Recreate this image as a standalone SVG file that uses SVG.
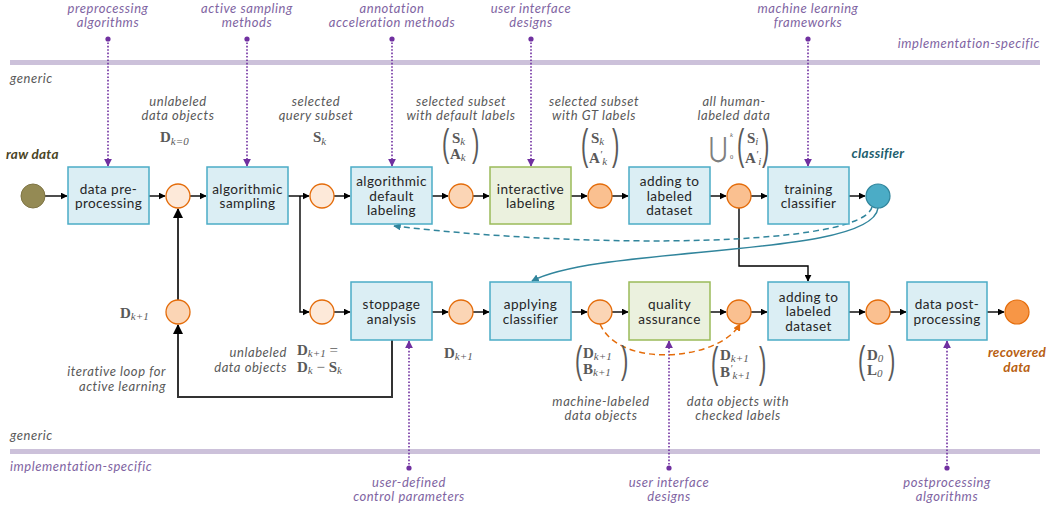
<svg xmlns="http://www.w3.org/2000/svg" width="1060" height="512" viewBox="0 0 1060 512">
<style>
.band{fill:#ccc1da}
.box{fill:#dbeef4;stroke:#4bacc6;stroke-width:1.5}
.gbox{fill:#ebf1de;stroke:#9bbb59;stroke-width:1.5}
.bt{font-family:Lato,"Liberation Sans",sans-serif;font-size:13.6px;letter-spacing:0.4px;fill:#262626;text-anchor:middle}
.pl{font-family:Lato,"Liberation Sans",sans-serif;font-size:13px;letter-spacing:0.55px;font-style:italic;fill:#8064a2;text-anchor:middle}
.gl{font-family:Lato,"Liberation Sans",sans-serif;font-size:13px;letter-spacing:0.55px;font-style:italic;fill:#595959}
.c{text-anchor:middle}
.r{text-anchor:end}
.m{font-family:"Liberation Serif","DejaVu Serif",serif;font-size:15px;fill:#595959}
.mb{font-weight:bold}
.mi{font-style:italic;font-size:11px}
.par{font-family:"Liberation Sans",sans-serif;font-size:22px;fill:#595959}
.conn{stroke:#000;stroke-width:1.4;fill:none}
.loop{stroke:#333;stroke-width:2;fill:none}
.dot{stroke:#7030a0;stroke-width:1.6;stroke-dasharray:1.6 1.8;fill:none}
.pd{fill:#7030a0}
.c1{fill:#fde9d9;stroke:#e46c0a;stroke-width:1.3}
.c2{fill:#fbd5b5;stroke:#e46c0a;stroke-width:1.3}
.c3{fill:#fac090;stroke:#e46c0a;stroke-width:1.3}
.bi{font-family:Lato,"Liberation Sans",sans-serif;font-size:13.5px;letter-spacing:0.3px;font-weight:bold;font-style:italic}
</style>
<defs>
<marker id="ab" viewBox="0 0 10 10" refX="9" refY="5" markerWidth="5" markerHeight="5" orient="auto"><path d="M0,0L10,5L0,10z" fill="#000"/></marker>
<marker id="ap" viewBox="0 0 10 10" refX="9" refY="5" markerWidth="5" markerHeight="5" orient="auto"><path d="M0,0L10,5L0,10z" fill="#7030a0"/></marker>
<marker id="at" viewBox="0 0 10 10" refX="9" refY="5" markerWidth="5" markerHeight="5" orient="auto"><path d="M0,0L10,5L0,10z" fill="#31859c"/></marker>
<marker id="ao" viewBox="0 0 10 10" refX="9" refY="5" markerWidth="5" markerHeight="5" orient="auto"><path d="M0,0L10,5L0,10z" fill="#e46c0a"/></marker>
</defs>

<g id="bands">
<rect class="band" x="10" y="60" width="1030" height="5"/>
<rect class="band" x="10" y="449" width="1030" height="5"/>
<text class="gl" x="10" y="83">generic</text>
<text class="pl" x="1040" y="48" style="text-anchor:end">implementation-specific</text>
<text class="gl" x="10" y="440">generic</text>
<text class="pl" x="10" y="471" style="text-anchor:start">implementation-specific</text>
</g>

<g id="impl-labels">
<text class="pl" x="108" y="13">preprocessing</text><text class="pl" x="108" y="27">algorithms</text>
<text class="pl" x="247" y="13">active sampling</text><text class="pl" x="247" y="27">methods</text>
<text class="pl" x="392" y="13">annotation</text><text class="pl" x="392" y="27">acceleration methods</text>
<text class="pl" x="531" y="13">user interface</text><text class="pl" x="531" y="27">designs</text>
<text class="pl" x="808" y="13">machine learning</text><text class="pl" x="808" y="27">frameworks</text>
<text class="pl" x="409" y="487">user-defined</text><text class="pl" x="409" y="501">control parameters</text>
<text class="pl" x="669" y="487">user interface</text><text class="pl" x="669" y="501">designs</text>
<text class="pl" x="947" y="487">postprocessing</text><text class="pl" x="947" y="501">algorithms</text>
</g>

<g id="connectors">
<g id="impl-links">
<circle class="pd" cx="108" cy="39" r="2.6"/><path class="dot" d="M108,39V166" marker-end="url(#ap)"/>
<circle class="pd" cx="247" cy="39" r="2.6"/><path class="dot" d="M247,39V166" marker-end="url(#ap)"/>
<circle class="pd" cx="392" cy="39" r="2.6"/><path class="dot" d="M392,39V166" marker-end="url(#ap)"/>
<circle class="pd" cx="531" cy="39" r="2.6"/><path class="dot" d="M531,39V166" marker-end="url(#ap)"/>
<circle class="pd" cx="808" cy="39" r="2.6"/><path class="dot" d="M808,39V166" marker-end="url(#ap)"/>
<circle class="pd" cx="409" cy="468" r="2.6"/><path class="dot" d="M409,468V341" marker-end="url(#ap)"/>
<circle class="pd" cx="669" cy="468" r="2.6"/><path class="dot" d="M669,468V341" marker-end="url(#ap)"/>
<circle class="pd" cx="947" cy="468" r="2.6"/><path class="dot" d="M947,468V341" marker-end="url(#ap)"/>
</g>
<path class="conn" d="M45,196H67" marker-end="url(#ab)"/>
<path class="conn" d="M149,196H165" marker-end="url(#ab)"/>
<path class="conn" d="M190,196H206" marker-end="url(#ab)"/>
<path class="conn" d="M288,196H309" marker-end="url(#ab)"/>
<path class="conn" d="M300,196V312H309" marker-end="url(#ab)"/>
<path class="conn" d="M334,196H350" marker-end="url(#ab)"/>
<path class="conn" d="M432,196H448" marker-end="url(#ab)"/>
<path class="conn" d="M473,196H489" marker-end="url(#ab)"/>
<path class="conn" d="M571,196H587" marker-end="url(#ab)"/>
<path class="conn" d="M612,196H628" marker-end="url(#ab)"/>
<path class="conn" d="M710,196H726" marker-end="url(#ab)"/>
<path class="conn" d="M751,196H767" marker-end="url(#ab)"/>
<path class="conn" d="M849,196H865" marker-end="url(#ab)"/>
<path class="conn" d="M334,312H350" marker-end="url(#ab)"/>
<path class="conn" d="M432,312H448" marker-end="url(#ab)"/>
<path class="conn" d="M473,312H489" marker-end="url(#ab)"/>
<path class="conn" d="M571,312H587" marker-end="url(#ab)"/>
<path class="conn" d="M612,312H628" marker-end="url(#ab)"/>
<path class="conn" d="M710,312H726" marker-end="url(#ab)"/>
<path class="conn" d="M751,312H767" marker-end="url(#ab)"/>
<path class="conn" d="M849,312H865" marker-end="url(#ab)"/>
<path class="conn" d="M890,312H906" marker-end="url(#ab)"/>
<path class="conn" d="M987,312H1004" marker-end="url(#ab)"/>
<path class="conn" d="M739,208V266H808V281" marker-end="url(#ab)"/>
<path class="loop" d="M392,340V397H178V325" marker-end="url(#ab)"/>
<path class="loop" d="M178,300V209" marker-end="url(#ab)"/>
<path d="M872,207C862,246 600,250 394,226" fill="none" stroke="#31859c" stroke-width="1.5" stroke-dasharray="6 4" marker-end="url(#at)"/>
<path d="M878,208C872,258 600,245 532,281" fill="none" stroke="#31859c" stroke-width="1.5" marker-end="url(#at)"/>
<path d="M600,324C620,370 720,360 740,324" fill="none" stroke="#e46c0a" stroke-width="1.5" stroke-dasharray="6 4" marker-end="url(#ao)"/>
</g>

<g id="raw-data"><circle cx="33" cy="196" r="12" fill="#948a54" stroke="#7f7545" stroke-width="1"/>
<text class="bi" x="6" y="159" style="fill:#4a4424">raw data</text></g>

<g id="preprocessing"><rect class="box" x="68" y="167" width="81" height="57"/><text class="bt" x="108.5" y="193.5">data pre-</text><text class="bt" x="108.5" y="208">processing</text></g>
<g id="sampling"><rect class="box" x="207" y="167" width="81" height="57"/><text class="bt" x="247.5" y="193.5">algorithmic</text><text class="bt" x="247.5" y="208">sampling</text></g>
<g id="default-labeling"><rect class="box" x="351" y="167" width="81" height="57"/><text class="bt" x="391.5" y="186">algorithmic</text><text class="bt" x="391.5" y="200.5">default</text><text class="bt" x="391.5" y="215">labeling</text></g>
<g id="interactive-labeling"><rect class="gbox" x="490" y="167" width="81" height="57"/><text class="bt" x="530.5" y="193.5">interactive</text><text class="bt" x="530.5" y="208">labeling</text></g>
<g id="adding-top"><rect class="box" x="629" y="167" width="81" height="57"/><text class="bt" x="669.5" y="186">adding to</text><text class="bt" x="669.5" y="200.5">labeled</text><text class="bt" x="669.5" y="215">dataset</text></g>
<g id="training"><rect class="box" x="768" y="167" width="81" height="57"/><text class="bt" x="808.5" y="193.5">training</text><text class="bt" x="808.5" y="208">classifier</text></g>
<g id="classifier"><circle cx="878" cy="196" r="12" fill="#4bacc6" stroke="#31859c" stroke-width="1.2"/>
<text class="bi" x="878" y="158" style="fill:#215d6e;text-anchor:middle">classifier</text></g>

<g id="stoppage"><rect class="box" x="351" y="282" width="81" height="58"/><text class="bt" x="391.5" y="309">stoppage</text><text class="bt" x="391.5" y="323.5">analysis</text></g>
<g id="applying"><rect class="box" x="490" y="282" width="81" height="58"/><text class="bt" x="530.5" y="309">applying</text><text class="bt" x="530.5" y="323.5">classifier</text></g>
<g id="quality"><rect class="gbox" x="629" y="282" width="81" height="58"/><text class="bt" x="669.5" y="309">quality</text><text class="bt" x="669.5" y="323.5">assurance</text></g>
<g id="adding-bottom"><rect class="box" x="768" y="282" width="81" height="58"/><text class="bt" x="808.5" y="301.5">adding to</text><text class="bt" x="808.5" y="316">labeled</text><text class="bt" x="808.5" y="330.5">dataset</text></g>
<g id="postprocessing"><rect class="box" x="907" y="282" width="80" height="58"/><text class="bt" x="947" y="309">data post-</text><text class="bt" x="947" y="323.5">processing</text></g>

<g id="n-d0"><circle class="c1" cx="178" cy="196" r="12"/></g>
<g id="n-sk"><circle class="c1" cx="322" cy="196" r="12"/></g>
<g id="n-ak"><circle class="c2" cx="461" cy="196" r="12"/></g>
<g id="n-akp"><circle class="c3" cx="600" cy="196" r="12"/></g>
<g id="n-all"><circle class="c3" cx="739" cy="196" r="12"/></g>
<g id="n-dk1"><circle class="c2" cx="178" cy="312" r="12"/></g>
<g id="n-rest"><circle class="c1" cx="322" cy="312" r="12"/></g>
<g id="n-dk1b"><circle class="c2" cx="461" cy="312" r="12"/></g>
<g id="n-bk"><circle class="c2" cx="600" cy="312" r="12"/></g>
<g id="n-bkp"><circle class="c3" cx="739" cy="312" r="12"/></g>
<g id="n-l0"><circle class="c3" cx="878" cy="312" r="12"/></g>
<g id="recovered"><circle cx="1017" cy="312" r="12" fill="#f79646" stroke="#e46c0a" stroke-width="1.2"/>
<text class="bi" x="1017" y="357" style="fill:#b85f12;text-anchor:middle">recovered</text>
<text class="bi" x="1017" y="372" style="fill:#b85f12;text-anchor:middle">data</text></g>

<g id="data-labels">
<text class="gl c" x="178" y="106">unlabeled</text><text class="gl c" x="178" y="120">data objects</text>
<text class="m" x="160" y="142"><tspan class="mb">D</tspan><tspan class="mi" dy="3">k=0</tspan></text>
<text class="gl c" x="316" y="106">selected</text><text class="gl c" x="316" y="120">query subset</text>
<text class="m" x="313" y="142"><tspan class="mb">S</tspan><tspan class="mi" dy="3">k</tspan></text>

<text class="gl c" x="461" y="106">selected subset</text><text class="gl c" x="461" y="120">with default labels</text>
<text class="par" transform="translate(442,156) scale(1,1.75)">(</text>
<text class="par" transform="translate(472,156) scale(1,1.75)">)</text>
<text class="m" x="452" y="143"><tspan class="mb">S</tspan><tspan class="mi" dy="2">k</tspan></text>
<text class="m" x="450" y="159"><tspan class="mb">A</tspan><tspan class="mi" dy="2">k</tspan></text>

<text class="gl c" x="594" y="106">selected subset</text><text class="gl c" x="594" y="120">with GT labels</text>
<text class="par" transform="translate(581,159) scale(1,1.9)">(</text>
<text class="par" transform="translate(612,159) scale(1,1.9)">)</text>
<text class="m" x="591" y="143"><tspan class="mb">S</tspan><tspan class="mi" dy="2">k</tspan></text>
<text class="m" x="589" y="163"><tspan class="mb">A</tspan><tspan class="mi" dy="-5">′</tspan><tspan class="mi" dy="7">k</tspan></text>

<text class="gl c" x="734" y="106">all human-</text><text class="gl c" x="734" y="120">labeled data</text>
<text transform="translate(709,157) scale(0.8,1)" style="font-family:'DejaVu Sans',sans-serif;font-size:28px;fill:#7f7f7f">⋃</text>
<text x="730" y="159" style="font-family:'Liberation Serif',serif;font-size:6.5px;fill:#595959">0</text>
<text x="730" y="137" style="font-family:'Liberation Serif',serif;font-size:6.5px;font-style:italic;fill:#595959">k</text>
<text class="par" transform="translate(737,159) scale(1,1.9)">(</text>
<text class="par" transform="translate(762,159) scale(1,1.9)">)</text>
<text class="m" x="747" y="143"><tspan class="mb">S</tspan><tspan class="mi" dy="2">i</tspan></text>
<text class="m" x="745" y="163"><tspan class="mb">A</tspan><tspan class="mi" dy="-5">′</tspan><tspan class="mi" dy="7">i</tspan></text>

<text class="m" x="120" y="318"><tspan class="mb">D</tspan><tspan class="mi" dy="2">k+1</tspan></text>
<text class="gl r" x="287" y="357">unlabeled</text><text class="gl r" x="287" y="372">data objects</text>
<text class="m" x="297" y="355"><tspan class="mb">D</tspan><tspan class="mi" dy="2">k+1</tspan><tspan dy="-2"> =</tspan></text>
<text class="m" x="297" y="372"><tspan class="mb">D</tspan><tspan class="mi" dy="2">k</tspan><tspan dy="-2"> − </tspan><tspan class="mb">S</tspan><tspan class="mi" dy="2">k</tspan></text>
<text class="gl r" x="166" y="376">iterative loop for</text><text class="gl r" x="166" y="391">active learning</text>

<text class="m" x="444" y="358"><tspan class="mb">D</tspan><tspan class="mi" dy="2">k+1</tspan></text>

<text class="par" transform="translate(575,373) scale(1,1.75)">(</text>
<text class="par" transform="translate(621,373) scale(1,1.75)">)</text>
<text class="m" x="583" y="358"><tspan class="mb">D</tspan><tspan class="mi" dy="2">k+1</tspan></text>
<text class="m" x="583" y="374"><tspan class="mb">B</tspan><tspan class="mi" dy="2">k+1</tspan></text>
<text class="gl c" x="601" y="406">machine-labeled</text><text class="gl c" x="601" y="420">data objects</text>

<text class="par" transform="translate(711,377) scale(1,1.95)">(</text>
<text class="par" transform="translate(759,377) scale(1,1.95)">)</text>
<text class="m" x="720" y="360"><tspan class="mb">D</tspan><tspan class="mi" dy="2">k+1</tspan></text>
<text class="m" x="720" y="377"><tspan class="mb">B</tspan><tspan class="mi" dy="-5">′</tspan><tspan class="mi" dy="7">k+1</tspan></text>
<text class="gl c" x="738" y="406">data objects with</text><text class="gl c" x="738" y="420">checked labels</text>

<text class="par" transform="translate(858,373) scale(1,1.75)">(</text>
<text class="par" transform="translate(888,373) scale(1,1.75)">)</text>
<text class="m" x="867" y="360"><tspan class="mb">D</tspan><tspan class="mi" dy="2">0</tspan></text>
<text class="m" x="867" y="375"><tspan class="mb">L</tspan><tspan class="mi" dy="2">0</tspan></text>
</g>
</svg>
